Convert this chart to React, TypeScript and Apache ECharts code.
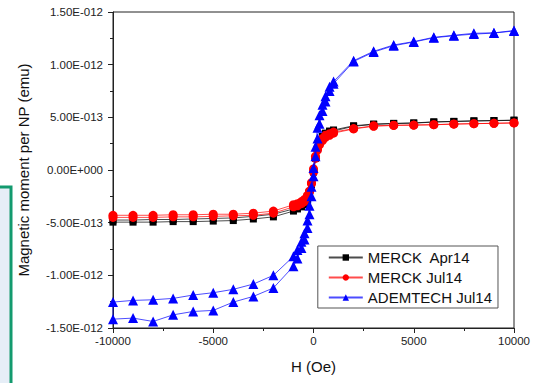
import React, { useEffect, useRef } from "react";
import * as echarts from "echarts";

// Magnetic field H (Oe), descending branch of each loop (+10000 -> -10000)
const fieldsDown = [
  10000, 9000, 8000, 7000, 6000, 5000, 4000, 3000, 2000,
  1000, 800, 600, 450, 300, 200, 100, 0, -100, -200, -300, -450, -600, -800, -1000,
  -2000, -3000, -4000, -5000, -6000, -7000, -8000, -9000, -10000,
];
// ascending branch (-10000 -> +10000)
const fieldsUp = [...fieldsDown].reverse();

// Magnetic moment per NP, in units of 1e-12 emu
const merckAprDown = [
  0.473, 0.47, 0.467, 0.462, 0.457, 0.447, 0.443, 0.436, 0.42,
  0.38, 0.37, 0.35, 0.32, 0.27, 0.21, 0.12, 0.0, -0.13, -0.22, -0.27, -0.31, -0.33, -0.35, -0.37,
  -0.42, -0.44, -0.455, -0.46, -0.465, -0.47, -0.47, -0.475, -0.475,
];
const merckAprUp = [
  -0.495, -0.495, -0.495, -0.49, -0.49, -0.485, -0.48, -0.465, -0.445,
  -0.39, -0.37, -0.35, -0.33, -0.29, -0.23, -0.14, -0.02, 0.11, 0.2, 0.26, 0.31, 0.34, 0.36, 0.37,
  0.415, 0.433, 0.44, 0.445, 0.455, 0.46, 0.465, 0.468, 0.472,
];
const merckJulDown = [
  0.447, 0.443, 0.44, 0.437, 0.43, 0.427, 0.425, 0.42, 0.393,
  0.36, 0.345, 0.33, 0.3, 0.26, 0.21, 0.13, 0.01, -0.12, -0.2, -0.24, -0.28, -0.3, -0.32, -0.33,
  -0.39, -0.41, -0.42, -0.42, -0.425, -0.425, -0.43, -0.43, -0.43,
];
const merckJulUp = [
  -0.45, -0.45, -0.45, -0.445, -0.445, -0.44, -0.435, -0.43, -0.41,
  -0.35, -0.34, -0.32, -0.3, -0.26, -0.21, -0.13, -0.02, 0.11, 0.19, 0.24, 0.28, 0.31, 0.33, 0.35,
  0.39, 0.415, 0.423, 0.426, 0.43, 0.435, 0.44, 0.443, 0.447,
];
const ademDown = [
  1.324, 1.302, 1.298, 1.279, 1.26, 1.219, 1.187, 1.127, 1.038,
  0.84, 0.79, 0.7, 0.62, 0.52, 0.4, 0.22, 0.02, -0.16, -0.34, -0.48, -0.6, -0.68, -0.76, -0.82,
  -1.0, -1.083, -1.133, -1.165, -1.187, -1.219, -1.232, -1.238, -1.254,
];
const ademUp = [
  -1.416, -1.406, -1.438, -1.375, -1.343, -1.333, -1.254, -1.2, -1.12,
  -0.914, -0.84, -0.74, -0.66, -0.55, -0.42, -0.25, -0.06, 0.13, 0.3, 0.44, 0.56, 0.65, 0.75, 0.82,
  1.03, 1.12, 1.18, 1.215, 1.255, 1.275, 1.29, 1.3, 1.32,
];

const seriesNames = ["MERCK  Apr14", "MERCK Jul14", "ADEMTECH Jul14"];
const seriesColors = ["#000000", "#ff0000", "#0000ff"];
const seriesSymbols = ["rect", "circle", "triangle"];

const yTickValues = [-1.5, -1.0, -0.5, 0, 0.5, 1.0, 1.5];
const yTickLabels = [
  "-1.50E-012", "-1.00E-012", "-5.00E-013", "0.00E+000", "5.00E-013", "1.00E-012", "1.50E-012",
];

const xTitle = "H (Oe)";
const yTitle = "Magnetic moment per NP (emu)";

function loop(down: number[], up: number[]) {
  const pts: number[][] = [];
  fieldsDown.forEach((h, i) => pts.push([h, down[i]]));
  fieldsUp.forEach((h, i) => pts.push([h, up[i]]));
  return pts;
}

const FONT = "Liberation Sans, Arial, sans-serif";

export default function App() {
  const ref = useRef<HTMLDivElement>(null);
  useEffect(() => {
    if (!ref.current) return;
    const chart = echarts.init(ref.current, null, { renderer: "svg" });
    const loops = [
      loop(merckAprDown, merckAprUp),
      loop(merckJulDown, merckJulUp),
      loop(ademDown, ademUp),
    ];
    const sizes = [7, 9, 10];
    chart.setOption({
      animation: false,
      backgroundColor: "#ffffff",
      textStyle: { fontFamily: FONT },
      grid: {
        left: 113,
        right: 34,
        top: 12,
        bottom: 55,
        show: true,
        borderColor: "#222",
        borderWidth: 1,
        backgroundColor: "transparent",
      },
      graphic: [
        {
          type: "rect",
          shape: { x: -10, y: 187, width: 21, height: 260 },
          style: { fill: "#e6eef7", stroke: "#139a6e", lineWidth: 3 },
          z: 100,
        },
      ],
      legend: {
        right: 50,
        top: 246,
        orient: "vertical",
        backgroundColor: "#ffffff",
        borderColor: "#555",
        borderWidth: 1,
        borderRadius: 0,
        padding: [4, 6, 3, 10],
        itemGap: 5,
        itemWidth: 34,
        itemHeight: 8,
        textStyle: { fontFamily: FONT, fontSize: 15, color: "#111" },
        data: seriesNames,
      },
      xAxis: {
        type: "value",
        min: -10000,
        max: 10000,
        interval: 5000,
        name: xTitle,
        nameLocation: "middle",
        nameGap: 31,
        nameTextStyle: { fontFamily: FONT, fontSize: 15, color: "#111" },
        axisLine: { onZero: false, lineStyle: { color: "#222", width: 1 } },
        axisTick: { length: 5, lineStyle: { color: "#222" } },
        minorTick: { show: true, splitNumber: 2, length: 3, lineStyle: { color: "#222" } },
        splitLine: { show: false },
        axisLabel: {
          fontFamily: FONT,
          fontSize: 11.5,
          color: "#222",
          margin: 7,
          formatter: (v: number) => String(v),
        },
      },
      yAxis: {
        type: "value",
        min: -1.5,
        max: 1.5,
        interval: 0.5,
        name: yTitle,
        nameLocation: "middle",
        nameGap: 82,
        nameTextStyle: { fontFamily: FONT, fontSize: 15, color: "#111" },
        axisLine: { onZero: false, lineStyle: { color: "#222", width: 1 } },
        axisTick: { length: 5, lineStyle: { color: "#222" } },
        minorTick: { show: true, splitNumber: 2, length: 3, lineStyle: { color: "#222" } },
        splitLine: { show: false },
        axisLabel: {
          fontFamily: FONT,
          fontSize: 11.5,
          color: "#222",
          margin: 10,
          formatter: (v: number) => {
            const i = yTickValues.findIndex((t) => Math.abs(t - v) < 1e-6);
            return i >= 0 ? yTickLabels[i] : "";
          },
        },
      },
      series: loops.map((data, k) => ({
        name: seriesNames[k],
        type: "line",
        data,
        symbol: seriesSymbols[k],
        symbolSize: sizes[k],
        showSymbol: true,
        lineStyle: { color: seriesColors[k], width: 1, opacity: 0.7 },
        itemStyle: { color: seriesColors[k] },
        emphasis: { disabled: true },
        z: 2 + k,
      })),
    });
    return () => chart.dispose();
  }, []);
  return (
    <div
      ref={ref}
      style={{ position: "fixed", left: 0, top: 0, width: 548, height: 383 }}
    />
  );
}
